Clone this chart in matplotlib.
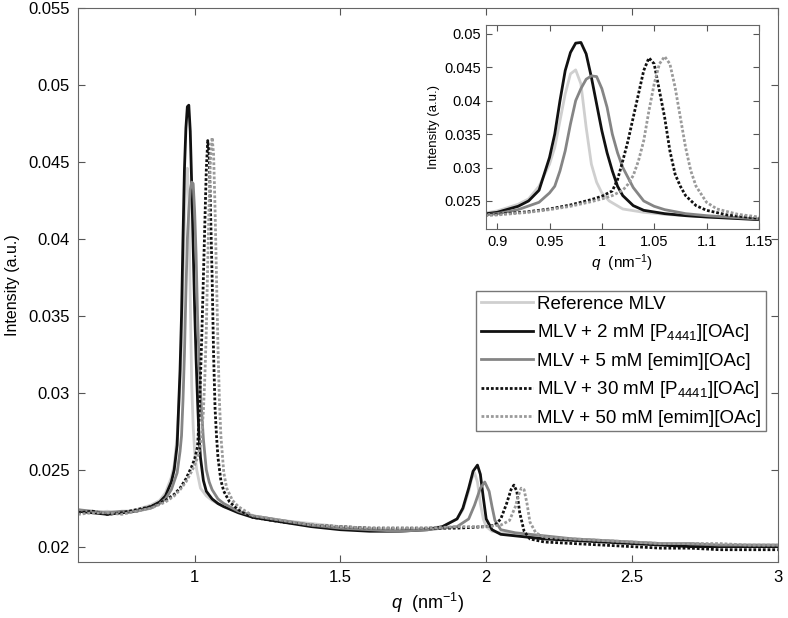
import numpy as np
import matplotlib.pyplot as plt

plt.rcParams['font.family'] = ['Liberation Sans', 'DejaVu Sans']
plt.rcParams['mathtext.fontset'] = 'custom'
plt.rcParams['mathtext.rm'] = 'Liberation Sans'
plt.rcParams['mathtext.it'] = 'Liberation Sans:italic'

# values
q_ref = [0.60, 0.65, 0.70, 0.75, 0.80, 0.85, 0.88, 0.90, 0.92, 0.93, 0.94, 0.95, 0.955, 0.96, 0.965,
         0.97, 0.975, 0.98, 0.985, 0.99, 0.995, 1.00, 1.007, 1.02, 1.04, 1.06, 1.08, 1.10, 1.15, 1.2,
         1.3, 1.4, 1.5, 1.6, 1.7, 1.8, 1.85, 1.9, 1.92, 1.94, 1.95, 1.96, 1.97, 1.98, 1.99, 2.0, 2.02,
         2.05, 2.1, 2.2, 2.3, 2.4, 2.5, 2.6, 2.7, 2.8, 2.9, 3.0]
i_ref = [0.0224, 0.0222, 0.0223, 0.0222, 0.0224, 0.0227, 0.0230, 0.0235, 0.0245, 0.0253, 0.0272, 0.0305,
         0.0330, 0.0370, 0.0410, 0.0440, 0.0446, 0.0425, 0.0360, 0.0305, 0.0278, 0.0262, 0.0250, 0.0238,
         0.0233, 0.0230, 0.0228, 0.0226, 0.0223, 0.0220, 0.0217, 0.0215, 0.0213, 0.0212, 0.0211, 0.0212,
         0.0213, 0.0218, 0.0224, 0.0236, 0.0244, 0.0248, 0.0242, 0.0228, 0.0218, 0.0213, 0.0210, 0.0209,
         0.0208, 0.0206, 0.0205, 0.0204, 0.0203, 0.0202, 0.0201, 0.0201, 0.0201, 0.0201]

q_p2 = [0.60, 0.65, 0.70, 0.75, 0.80, 0.85, 0.88, 0.90, 0.92, 0.93, 0.94, 0.95, 0.955, 0.96, 0.965,
        0.97, 0.975, 0.98, 0.985, 0.99, 0.995, 1.00, 1.005, 1.01, 1.015, 1.02, 1.03, 1.04, 1.06, 1.08,
        1.10, 1.15, 1.2, 1.3, 1.4, 1.5, 1.6, 1.7, 1.8, 1.85, 1.9, 1.92, 1.94, 1.955, 1.97, 1.98, 1.99,
        2.0, 2.02, 2.05, 2.1, 2.2, 2.3, 2.4, 2.5, 2.6, 2.7, 2.8, 2.9, 3.0]
i_p2 = [0.0223, 0.0222, 0.0221, 0.0222, 0.0223, 0.0226, 0.0229, 0.0233, 0.0242, 0.0250, 0.0266, 0.0315,
        0.0350, 0.0400, 0.0445, 0.0472, 0.0486, 0.0487, 0.0470, 0.0435, 0.0395, 0.0355, 0.0322, 0.0295,
        0.0272, 0.0258, 0.0243, 0.0236, 0.0231, 0.0228, 0.0226, 0.0222, 0.0219, 0.0216, 0.0213, 0.0211,
        0.0210, 0.0210, 0.0211, 0.0213, 0.0218, 0.0225, 0.0238, 0.0249, 0.0253, 0.0247, 0.0232, 0.0218,
        0.0211, 0.0208, 0.0207, 0.0205, 0.0204, 0.0203, 0.0202, 0.0201, 0.0200, 0.0200, 0.0200, 0.0200]

q_e5 = [0.60, 0.65, 0.70, 0.75, 0.80, 0.85, 0.88, 0.90, 0.92, 0.94, 0.95, 0.955, 0.96, 0.965, 0.97,
        0.975, 0.98, 0.985, 0.99, 0.995, 1.00, 1.005, 1.01, 1.015, 1.02, 1.03, 1.04, 1.05, 1.06, 1.08,
        1.10, 1.15, 1.2, 1.3, 1.4, 1.5, 1.6, 1.7, 1.8, 1.9, 1.94, 1.96, 1.98, 1.995, 2.01, 2.02, 2.03,
        2.05, 2.1, 2.2, 2.3, 2.4, 2.5, 2.6, 2.7, 2.8, 2.9, 3.0]
i_e5 = [0.0224, 0.0223, 0.0222, 0.0223, 0.0223, 0.0225, 0.0228, 0.0231, 0.0237, 0.0248, 0.0262, 0.0272,
        0.0295, 0.0325, 0.0365, 0.0400, 0.0418, 0.0432, 0.0437, 0.0436, 0.0418, 0.0390, 0.0350, 0.0322,
        0.0300, 0.0270, 0.0250, 0.0242, 0.0237, 0.0231, 0.0228, 0.0223, 0.0220, 0.0217, 0.0214, 0.0212,
        0.0211, 0.0210, 0.0211, 0.0213, 0.0218, 0.0227, 0.0238, 0.0242, 0.0236, 0.0226, 0.0217, 0.0211,
        0.0209, 0.0207, 0.0205, 0.0204, 0.0203, 0.0202, 0.0202, 0.0201, 0.0201, 0.0201]

q_p30 = [0.60, 0.65, 0.70, 0.75, 0.80, 0.85, 0.90, 0.93, 0.95, 0.97, 0.98, 0.99, 1.00, 1.01, 1.015,
         1.02, 1.025, 1.03, 1.035, 1.04, 1.045, 1.05, 1.055, 1.06, 1.065, 1.07, 1.075, 1.08, 1.09, 1.10,
         1.12, 1.15, 1.2, 1.3, 1.4, 1.5, 1.6, 1.7, 1.8, 1.9, 2.0, 2.03, 2.05, 2.07, 2.085, 2.095, 2.105,
         2.115, 2.13, 2.15, 2.2, 2.3, 2.4, 2.5, 2.6, 2.7, 2.8, 2.9, 3.0]
i_p30 = [0.0222, 0.0223, 0.0221, 0.0222, 0.0224, 0.0226, 0.0230, 0.0234, 0.0238, 0.0244, 0.0248, 0.0252,
         0.0257, 0.0265, 0.0282, 0.0310, 0.0340, 0.0375, 0.0410, 0.0445, 0.0464, 0.0455, 0.0415, 0.0375,
         0.0325, 0.0290, 0.0272, 0.0258, 0.0243, 0.0236, 0.0229, 0.0224, 0.0219, 0.0216, 0.0214, 0.0213,
         0.0212, 0.0212, 0.0212, 0.0212, 0.0213, 0.0214, 0.0218, 0.0228, 0.0237, 0.0240, 0.0236, 0.0222,
         0.0210, 0.0205, 0.0203, 0.0202, 0.0201, 0.0200, 0.0199, 0.0199, 0.0198, 0.0198, 0.0198]

q_e50 = [0.60, 0.65, 0.70, 0.75, 0.80, 0.85, 0.90, 0.93, 0.95, 0.97, 0.99, 1.00, 1.01, 1.02, 1.025,
         1.03, 1.035, 1.04, 1.045, 1.05, 1.055, 1.06, 1.065, 1.07, 1.075, 1.08, 1.085, 1.09, 1.10, 1.11,
         1.13, 1.15, 1.2, 1.3, 1.4, 1.5, 1.6, 1.7, 1.8, 1.9, 2.0, 2.05, 2.08, 2.10, 2.11, 2.12, 2.13,
         2.14, 2.15, 2.17, 2.2, 2.3, 2.4, 2.5, 2.6, 2.7, 2.8, 2.9, 3.0]
i_e50 = [0.0221, 0.0222, 0.0222, 0.0221, 0.0223, 0.0225, 0.0229, 0.0233, 0.0237, 0.0242, 0.0249, 0.0253,
         0.0258, 0.0266, 0.0275, 0.0288, 0.0310, 0.0340, 0.0385, 0.0425, 0.0455, 0.0466, 0.0455, 0.0420,
         0.0375, 0.0330, 0.0295, 0.0272, 0.0248, 0.0238, 0.0230, 0.0226, 0.0220, 0.0217, 0.0214, 0.0213,
         0.0212, 0.0212, 0.0212, 0.0213, 0.0213, 0.0214, 0.0217, 0.0226, 0.0233, 0.0238, 0.0237, 0.0228,
         0.0216, 0.0209, 0.0206, 0.0205, 0.0204, 0.0203, 0.0202, 0.0202, 0.0202, 0.0201, 0.0201]

labels = ['Reference MLV',
          'MLV + 2 mM [P$_{4441}$][OAc]',
          'MLV + 5 mM [emim][OAc]',
          'MLV + 30 mM [P$_{4441}$][OAc]',
          'MLV + 50 mM [emim][OAc]']

series = [(q_ref, i_ref, '#cfcfcf', '-'),
          (q_p2, i_p2, '#111111', '-'),
          (q_e5, i_e5, '#858585', '-'),
          (q_p30, i_p30, '#111111', (0, (1.0, 0.7))),
          (q_e50, i_e50, '#9a9a9a', (0, (1.0, 0.7)))]

fig = plt.figure(figsize=(7.88, 6.18), dpi=100)
ax = fig.add_axes([0.099, 0.0906, 0.888, 0.896])

for (q, inten, col, ls), lab in zip(series, labels):
    ax.plot(q, inten, color=col, ls=ls, lw=2.0, label=lab)

ax.set_xlim(0.6, 3)
ax.set_ylim(0.019, 0.055)
ax.set_xticks([1, 1.5, 2, 2.5, 3])
ax.set_xticklabels(['1', '1.5', '2', '2.5', '3'])
ax.set_yticks([0.02, 0.025, 0.03, 0.035, 0.04, 0.045, 0.05, 0.055])
ax.set_yticklabels(['0.02', '0.025', '0.03', '0.035', '0.04', '0.045', '0.05', '0.055'])
ax.tick_params(direction='in', top=True, right=True, labelsize=12, length=5, color='#555555', pad=6)
for sp in ax.spines.values():
    sp.set_color('#666666')
ax.set_xlabel('$q$  (nm$^{-1}$)', fontsize=13, labelpad=4)
ax.set_ylabel('Intensity (a.u.)', fontsize=11.5, labelpad=6)

leg = ax.legend(loc='upper right', bbox_to_anchor=(0.983, 0.489), fontsize=13.5, frameon=True,
                fancybox=False, edgecolor='#555555', handlelength=2.8, handletextpad=0.2,
                borderpad=0.25, labelspacing=0.5, borderaxespad=0)
leg.get_frame().set_linewidth(1.0)

# inset zoom on the first-order peaks
ins = fig.add_axes([0.617, 0.6294, 0.346, 0.330])
for q, inten, col, ls in series:
    ins.plot(q, inten, color=col, ls=ls, lw=2.0)
ins.set_xlim(0.8895, 1.15)
ins.set_ylim(0.0208, 0.0513)
ins.set_xticks([0.9, 0.95, 1, 1.05, 1.1, 1.15])
ins.set_xticklabels(['0.9', '0.95', '1', '1.05', '1.1', '1.15'])
ins.set_yticks([0.025, 0.03, 0.035, 0.04, 0.045, 0.05])
ins.set_yticklabels(['0.025', '0.03', '0.035', '0.04', '0.045', '0.05'])
ins.tick_params(direction='in', top=True, right=True, labelsize=10.5, length=4, color='#555555', pad=4)
for sp in ins.spines.values():
    sp.set_color('#666666')
ins.set_xlabel('$q$  (nm$^{-1}$)', fontsize=11, labelpad=3)
ins.set_ylabel('Intensity (a.u.)', fontsize=9.5, labelpad=3)

fig.savefig('out.png', dpi=100)
